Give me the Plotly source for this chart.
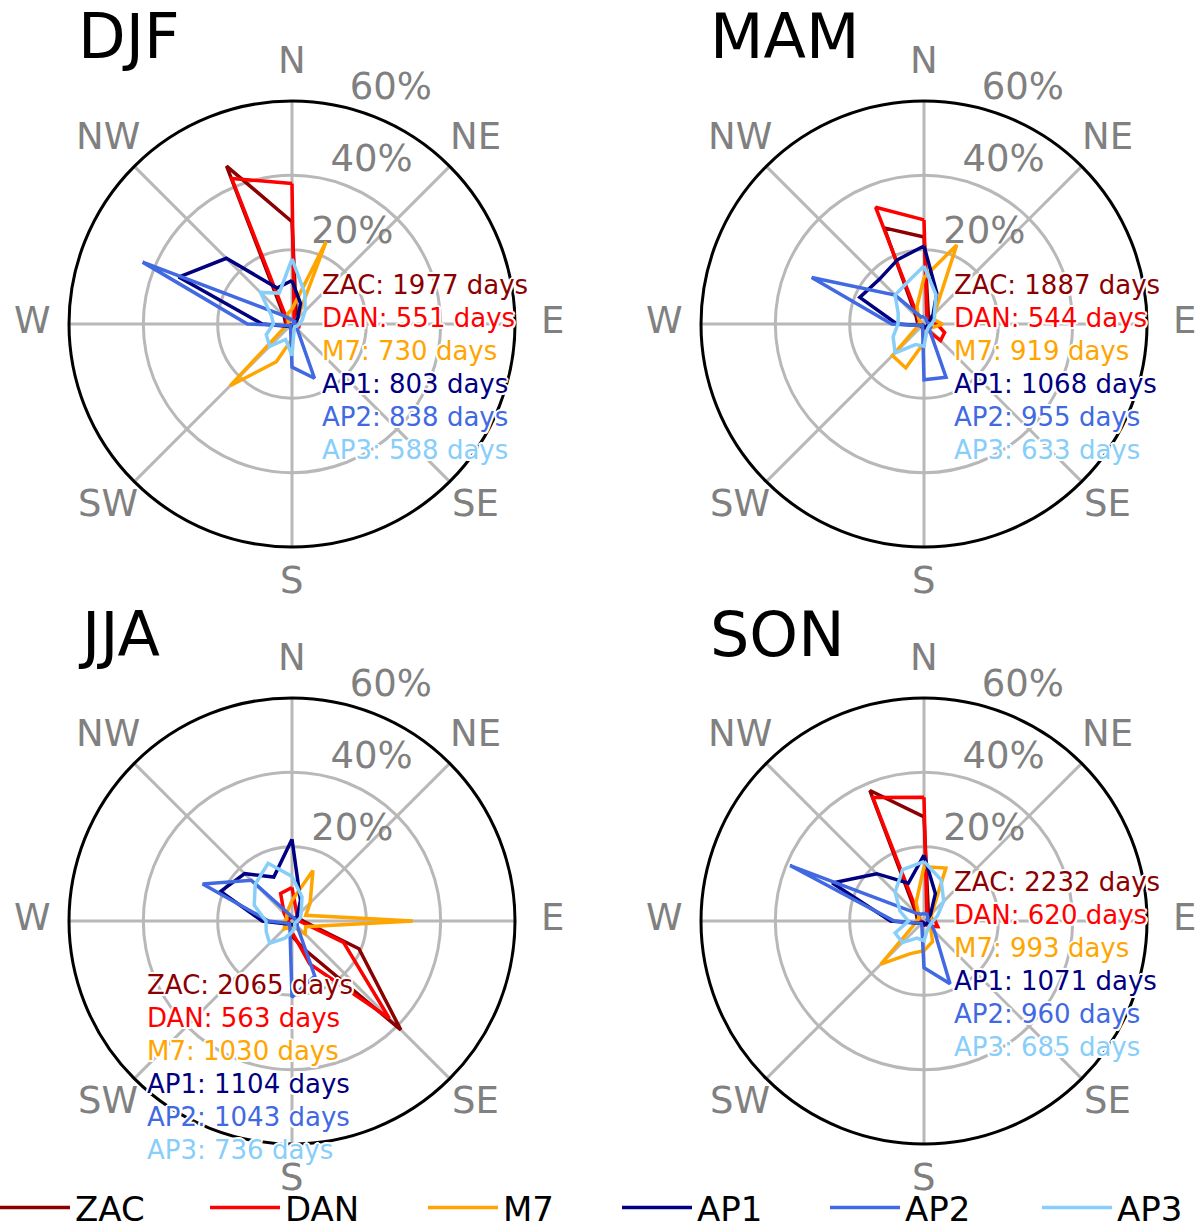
import math
import plotly.graph_objects as go

# ---------------- data ----------------
dir_labels = ["N", "NNE", "NE", "ENE", "E", "ESE", "SE", "SSE",
              "S", "SSW", "SW", "WSW", "W", "WNW", "NW", "NNW"]
dir_angles = [0, 22.5, 45, 67.5, 90, 112.5, 135, 157.5,
              180, 202.5, 225, 247.5, 270, 292.5, 315, 337.5]

stations = ["ZAC", "DAN", "M7", "AP1", "AP2", "AP3"]
colors = ["#8b0000", "#ff0000", "#ffa500", "#000080", "#4169e1", "#87cefa"]

seasons = ["DJF", "MAM", "JJA", "SON"]

# frequency (%) per direction, order of dir_labels
djf_zac = [27.5, 3, 1.5, 1, 1, 1, 1, 1, 1, 1, 1, 1, 1.5, 2, 3, 46]
djf_dan = [37.8, 1.5, 1.5, 1.5, 2, 2, 1, 0.5, 0.5, 0.5, 0.5, 0.5, 1, 1.5, 2, 42.4]
djf_m7 = [4, 24, 2, 1.5, 1, 1, 1, 1.5, 4, 11, 23.5, 2, 1, 1, 1.5, 3]
djf_ap1 = [11.7, 6, 2.2, 1, 0.5, 0.5, 0.5, 0.5, 0.5, 0.5, 0.5, 1.5, 8, 33, 25, 10.5]
djf_ap2 = [1, 1, 1, 0.5, 1, 1, 2, 15.8, 11.6, 1, 0.5, 1, 12, 43.5, 3.2, 1.5]
djf_ap3 = [17.5, 9, 5, 3, 2, 1.5, 1, 1.5, 8.5, 4.5, 8.5, 7.5, 5, 6, 12, 9]

mam_zac = [23.4, 3, 2, 1.5, 1.5, 1.5, 1, 1, 1, 1, 1, 1, 1.5, 2, 3, 28]
mam_dan = [28, 2, 1.5, 2, 3.5, 6, 6.3, 1.5, 1, 0.5, 0.5, 0.5, 1, 1.5, 2, 34]
mam_m7 = [12.5, 23, 4, 3, 5, 2.5, 1.5, 2, 5, 12.8, 12, 2, 1.5, 1, 2, 5]
mam_ap1 = [21, 9, 3.4, 1.5, 1, 1, 1, 1, 1, 0.5, 0.5, 1, 7.3, 18.7, 17, 18.7]
mam_ap2 = [2, 1.5, 1, 1, 1.5, 2, 2, 15.5, 15, 1, 0.5, 1, 8.7, 32.7, 11, 2]
mam_ap3 = [15.6, 8.5, 4, 3, 2, 1.5, 1.5, 2, 6, 6, 11, 9, 7, 7.5, 11, 12]

jja_zac = [1, 1, 1, 2, 3, 19.5, 41.4, 8, 4, 1, 1, 1, 1, 1, 1, 1]
jja_dan = [9, 3, 2, 2, 2, 15, 37, 12.5, 3, 1, 1, 1, 1, 1.5, 3, 8]
jja_m7 = [5.5, 14.7, 6.9, 4, 32.5, 4, 5, 2, 2, 2, 3, 2, 2, 1.5, 2, 3]
jja_ap1 = [22, 6, 2, 1, 1, 1, 1, 1, 1, 1, 1, 2, 8, 20.8, 18, 12.8]
jja_ap2 = [1, 1, 1, 1, 1, 1.5, 2, 16, 20.5, 1.5, 1, 1.5, 6.3, 26, 15.5, 2]
jja_ap3 = [12, 7, 3.5, 2.5, 1.5, 1, 1, 2, 3, 5, 8.5, 7.5, 7, 11, 14, 16.8]

son_zac = [28, 3, 2, 1.5, 1.5, 1.5, 1, 1, 1, 1, 1, 1, 1.5, 2, 3, 38]
son_dan = [33.3, 2, 1.5, 2, 3, 4, 2, 1, 1, 0.5, 0.5, 0.5, 1, 1.5, 2, 36]
son_m7 = [14.6, 15.4, 3, 2, 2, 2, 2.5, 6, 8, 9.5, 16.4, 3, 2, 1.5, 2, 5.5]
son_ap1 = [17.7, 8, 2.5, 1, 1, 1, 1, 1, 1, 0.5, 0.5, 1.5, 9, 26.7, 18, 11]
son_ap2 = [2, 2, 1.5, 1, 1.5, 2, 4, 18.3, 12.6, 1.5, 1, 1.5, 8, 39, 3, 2]
son_ap3 = [16, 12, 7.5, 4, 2.5, 2, 2, 2.5, 5.3, 5, 8.2, 8.4, 4.2, 7, 11, 15]

days_djf = [1977, 551, 730, 803, 838, 588]
days_mam = [1887, 544, 919, 1068, 955, 633]
days_jja = [2065, 563, 1030, 1104, 1043, 736]
days_son = [2232, 620, 993, 1071, 960, 685]

compass_vals = [0, 45, 90, 135, 180, 225, 270, 315]
compass_text = ["N", "NE", "E", "SE", "S", "SW", "W", "NW"]
r_tick_vals = [20, 40, 60]
r_tick_text = ["20%", "40%", "60%"]

season_data = {
    "DJF": [djf_zac, djf_dan, djf_m7, djf_ap1, djf_ap2, djf_ap3],
    "MAM": [mam_zac, mam_dan, mam_m7, mam_ap1, mam_ap2, mam_ap3],
    "JJA": [jja_zac, jja_dan, jja_m7, jja_ap1, jja_ap2, jja_ap3],
    "SON": [son_zac, son_dan, son_m7, son_ap1, son_ap2, son_ap3],
}
season_days = {"DJF": days_djf, "MAM": days_mam, "JJA": days_jja, "SON": days_son}

# ---------------- layout geometry ----------------
W, H = 1203, 1230
R = 223
R_MAX = 60
LABEL_PX = 260        # pixel radius of compass-label centres
LABEL_DY = -4
RLABEL_THETA = 15     # angle of the radial tick labels
centers = {"DJF": (292, 324), "MAM": (924, 324), "JJA": (292, 921), "SON": (924, 921)}
text_offsets = {"DJF": (28, -39), "MAM": (28, -39), "JJA": (-147, 64), "SON": (28, -39)}
line_step = 33
legend_x_px = [-5, 205, 423, 617, 825, 1037]
legend_y_px = 1208

FONT = "DejaVu Sans"
GRAY = "#808080"
GRID = "#b8b8b8"
SHADOW = ("2px 0px 0px white, -2px 0px 0px white, 0px 2px 0px white, "
          "0px -2px 0px white, 1.5px 1.5px 0px white, -1.5px -1.5px 0px white, "
          "1.5px -1.5px 0px white, -1.5px 1.5px 0px white")

fig = go.Figure()
annotations = []
layout_extra = {}

for k, season in enumerate(seasons):
    pname = "polar" if k == 0 else f"polar{k + 1}"
    cx, cy = centers[season]

    # radial tick labels
    fig.add_trace(go.Scatterpolar(
        r=r_tick_vals, theta=[RLABEL_THETA] * len(r_tick_vals), text=r_tick_text,
        mode="text", textposition="top right",
        textfont=dict(family=FONT, size=37, color=GRAY),
        cliponaxis=False, showlegend=False, hoverinfo="skip", subplot=pname))

    for i, st in enumerate(stations):
        vals = season_data[season][i]
        lg = "legend" if i == 0 else f"legend{i + 1}"
        fig.add_trace(go.Scatterpolar(
            r=vals + vals[:1], theta=dir_angles + dir_angles[:1],
            mode="lines", line=dict(color=colors[i], width=3.5),
            name=st, legendgroup=st, showlegend=(k == 0), legend=lg,
            cliponaxis=False, subplot=pname))

    layout_extra[pname] = dict(
        domain=dict(x=[(cx - R) / W, (cx + R) / W],
                    y=[1 - (cy + R) / H, 1 - (cy - R) / H]),
        bgcolor="white",
        radialaxis=dict(range=[0, R_MAX], tickvals=r_tick_vals, showticklabels=False,
                        ticks="", showline=False, gridcolor=GRID, gridwidth=2.7),
        angularaxis=dict(direction="clockwise", rotation=90,
                         tickmode="array", tickvals=compass_vals, ticktext=compass_text,
                         showticklabels=False, ticks="",
                         showgrid=True, gridcolor=GRID, gridwidth=2.7,
                         showline=True, linecolor="black", linewidth=3),
    )

    # compass labels
    for ang, lab in zip(compass_vals, compass_text):
        a = math.radians(ang)
        px = cx + LABEL_PX * math.sin(a)
        py = cy - LABEL_PX * math.cos(a) + LABEL_DY
        annotations.append(dict(
            x=px / W, y=1 - py / H, xref="paper", yref="paper",
            xanchor="center", yanchor="middle", text=lab, showarrow=False,
            font=dict(family=FONT, size=37, color=GRAY)))

    # season title
    annotations.append(dict(
        x=(cx - 216) / W, y=1 - (cy - 287) / H, xref="paper", yref="paper",
        xanchor="left", yanchor="middle", text=season, showarrow=False,
        font=dict(family=FONT, size=62, color="black")))

    # day counts
    ox, oy = text_offsets[season]
    for i, st in enumerate(stations):
        annotations.append(dict(
            x=(cx + ox) / W, y=1 - (cy + oy + i * line_step) / H,
            xref="paper", yref="paper", xanchor="left", yanchor="middle",
            text=f"{st}: {season_days[season][i]} days", showarrow=False,
            font=dict(family=FONT, size=26, color=colors[i], shadow=SHADOW)))

for i in range(len(stations)):
    lg = "legend" if i == 0 else f"legend{i + 1}"
    layout_extra[lg] = dict(
        orientation="h", x=legend_x_px[i] / W, xanchor="left",
        y=1 - legend_y_px / H, yanchor="middle", itemwidth=70,
        bgcolor="rgba(0,0,0,0)",
        font=dict(family=FONT, size=34, color="black"))

fig.update_layout(
    width=W, height=H,
    margin=dict(l=0, r=0, t=0, b=0, autoexpand=False),
    paper_bgcolor="white",
    annotations=annotations,
    showlegend=True,
    **layout_extra,
)

fig.write_html("out.html")
